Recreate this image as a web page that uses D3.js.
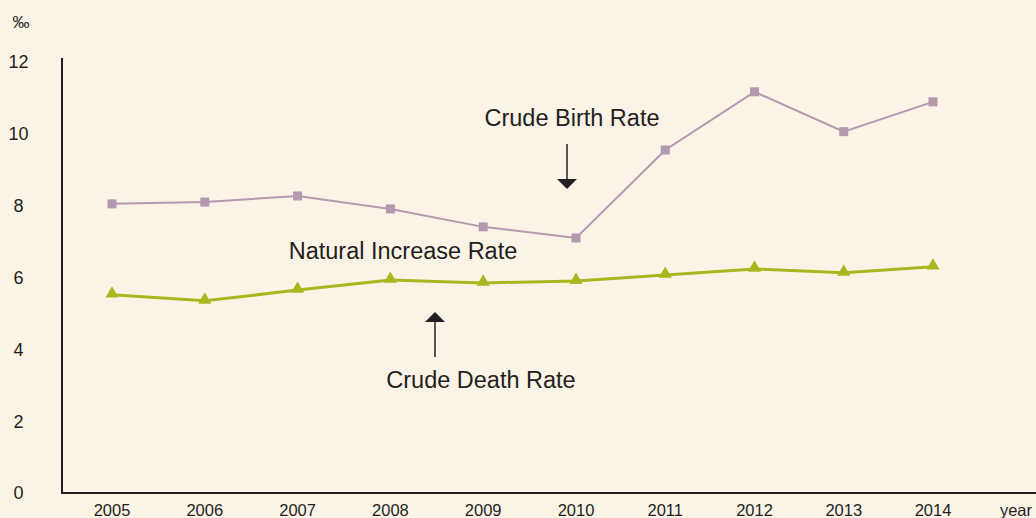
<!DOCTYPE html>
<html>
<head>
<meta charset="utf-8">
<script src="https://cdn.jsdelivr.net/npm/d3@7"></script>
<style>
  body { margin: 0; background: #fcf3e7; }
  svg text { font-family: "Liberation Sans", Arial, sans-serif; fill: #231f20; }
</style>
</head>
<body>
<div id="chart"></div>
<script>
var years = [2005, 2006, 2007, 2008, 2009, 2010, 2011, 2012, 2013, 2014];
var birthRate = [8.05, 8.1, 8.27, 7.91, 7.41, 7.1, 9.55, 11.17, 10.06, 10.89];
var deathRate = [5.52, 5.35, 5.65, 5.93, 5.85, 5.9, 6.07, 6.24, 6.13, 6.3];
var yTicks = [0, 2, 4, 6, 8, 10, 12];

var w = 1036, h = 518;

var svg = d3.select('#chart').append('svg')
    .attr('width', w)
    .attr('height', h);

svg.append('rect').attr('width', w).attr('height', h).attr('fill', '#fcf3e7');

// the year spacing in the original is slightly tighter after 2010
var x = d3.scaleLinear()
    .domain([2005, 2010, 2014])
    .range([112, 576, 933]);

var y = d3.scaleLinear()
    .domain([0, 12])
    .range([493, 62]);

// axes
svg.append('line')
    .attr('x1', 62).attr('x2', 62)
    .attr('y1', 58).attr('y2', y(0))
    .attr('stroke', '#231f20').attr('stroke-width', 2);
svg.append('line')
    .attr('x1', 61).attr('x2', w)
    .attr('y1', y(0)).attr('y2', y(0))
    .attr('stroke', '#231f20').attr('stroke-width', 2);

svg.selectAll('text.ytick')
    .data(yTicks)
    .enter().append('text')
    .attr('class', 'ytick')
    .attr('x', 18.5)
    .attr('y', function(d) { return y(d); })
    .attr('dy', '0.36em')
    .attr('text-anchor', 'middle')
    .style('font-size', '18px')
    .text(function(d) { return d; });

svg.append('text')
    .attr('x', 21).attr('y', 28)
    .attr('text-anchor', 'middle')
    .style('font-size', '17px')
    .text('‰');

svg.selectAll('text.xtick')
    .data(years)
    .enter().append('text')
    .attr('class', 'xtick')
    .attr('x', function(d) { return x(d); })
    .attr('y', 516)
    .attr('text-anchor', 'middle')
    .style('font-size', '16.5px')
    .text(function(d) { return d; });

svg.append('text')
    .attr('x', 1016).attr('y', 516)
    .attr('text-anchor', 'middle')
    .style('font-size', '16.5px')
    .text('year');

// lines
var line = d3.line()
    .x(function(d, i) { return x(years[i]); })
    .y(function(d) { return y(d); });

svg.append('path')
    .datum(birthRate)
    .attr('d', line)
    .attr('fill', 'none')
    .attr('stroke', '#b399ae')
    .attr('stroke-width', 2);

svg.append('path')
    .datum(deathRate)
    .attr('d', line)
    .attr('fill', 'none')
    .attr('stroke', '#a9b71e')
    .attr('stroke-width', 3);

svg.selectAll('rect.birth')
    .data(birthRate)
    .enter().append('rect')
    .attr('class', 'birth')
    .attr('x', function(d, i) { return x(years[i]) - 4.5; })
    .attr('y', function(d) { return y(d) - 4.5; })
    .attr('width', 9).attr('height', 9)
    .attr('fill', '#b399ae');

var tri = d3.symbol().type(d3.symbolTriangle).size(75);
svg.selectAll('path.death')
    .data(deathRate)
    .enter().append('path')
    .attr('class', 'death')
    .attr('d', tri)
    .attr('transform', function(d, i) {
        return 'translate(' + x(years[i]) + ',' + (y(d) - 1) + ')';
    })
    .attr('fill', '#a9b71e');

// annotations
function arrow(x0, y0, y1) {
    var dir = y1 > y0 ? 1 : -1;
    svg.append('line')
        .attr('x1', x0).attr('x2', x0)
        .attr('y1', y0).attr('y2', y1 - dir * 8)
        .attr('stroke', '#231f20').attr('stroke-width', 1.5);
    svg.append('path')
        .attr('d', 'M' + (x0 - 10) + ',' + (y1 - dir * 10) + 'L' + (x0 + 10) + ',' + (y1 - dir * 10) + 'L' + x0 + ',' + y1 + 'Z')
        .attr('fill', '#231f20');
}
arrow(567, 144, 189);
arrow(435, 357, 312);

var labels = [
    {t: 'Crude Birth Rate', x: 572, y: 118},
    {t: 'Natural Increase Rate', x: 403, y: 251},
    {t: 'Crude Death Rate', x: 481, y: 380}
];
svg.selectAll('text.lbl')
    .data(labels)
    .enter().append('text')
    .attr('class', 'lbl')
    .attr('x', function(d) { return d.x; })
    .attr('y', function(d) { return d.y; })
    .attr('dy', '0.36em')
    .attr('text-anchor', 'middle')
    .style('font-size', '23.5px')
    .text(function(d) { return d.t; });
</script>
</body>
</html>
